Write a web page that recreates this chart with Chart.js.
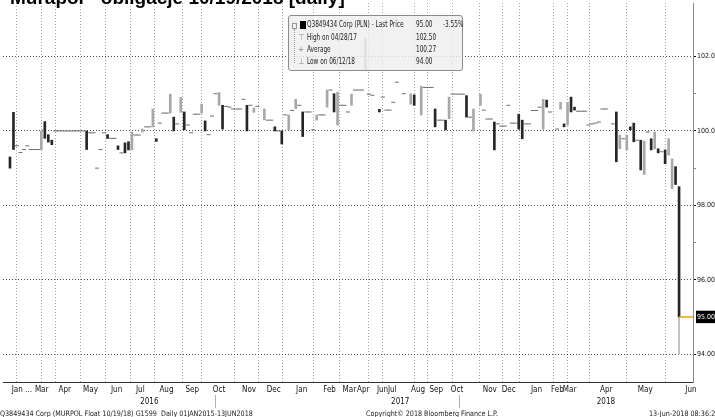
<!DOCTYPE html>
<html>
<head>
<meta charset="utf-8">
<script src="https://cdn.jsdelivr.net/npm/chart.js@4.4.0/dist/chart.umd.min.js"></script>
<style>
html, body { margin: 0; padding: 0; background: #fff; overflow: hidden; }
#quadro { position: relative; width: 715px; height: 417px; overflow: hidden;
  font-family: 'Liberation Sans Narrow', 'DejaVu Sans Condensed', sans-serif; color: #222; }
#grafico { position: absolute; left: 0; top: 0; }
#titulo { position: absolute; left: 10px; top: -12px; white-space: nowrap;
  font: bold 19px/19px 'Liberation Sans', Arial, sans-serif; color: #000; }
#legenda { position: absolute; left: 288px; top: 15px; width: 173px; height: 54px;
  border: 1px solid #8c8c8c; border-radius: 3px; background: rgba(238,238,238,0.82); font-size: 8px; }
#legenda .lin { position: absolute; left: 0; width: 100%; height: 12px; line-height: 12px; white-space: nowrap; }
#legenda .lin span.t { position: absolute; transform: scaleX(0.8); transform-origin: 0 50%; }
#legenda .nome { left: 18px; }
#legenda .val { left: 127px; }
#legenda .var { left: 154px; }
#legenda .ic0 { position: absolute; left: 3px; top: 4px; width: 3px; height: 4px; border: 1px solid #999; }
#legenda .ic1 { position: absolute; left: 11px; top: 2px; width: 6px; height: 8px; background: #000; }
#legenda .sim { position: absolute; left: 9px; color: #888; }
#legenda .conector { position: absolute; left: 5px; top: 13px; height: 34px; border-left: 1px dotted #999; }
.rodape { position: absolute; top: 409px; font-size: 7.5px; color: #222; white-space: nowrap;
  transform: scaleX(0.95); transform-origin: 0 50%; }
</style>
</head>
<body>
<div id="quadro">
  <canvas id="grafico" width="715" height="417"></canvas>
  <div id="titulo">Murapol - obligacje 10/19/2018 [daily]</div>
  <div id="legenda">
    <div class="conector"></div>
    <div class="lin" style="top:3px"><span class="ic0"></span><span class="ic1"></span><span class="t nome">Q3849434 Corp (PLN) - Last Price</span><span class="t val">95.00</span><span class="t var">-3.55%</span></div>
    <div class="lin" style="top:16px"><span class="sim">&#8868;</span><span class="t nome">High on 04/28/17</span><span class="t val">102.50</span></div>
    <div class="lin" style="top:28px"><span class="sim">+</span><span class="t nome">Average</span><span class="t val">100.27</span></div>
    <div class="lin" style="top:40px"><span class="sim">&#8869;</span><span class="t nome">Low on 06/12/18</span><span class="t val">94.00</span></div>
  </div>
  <div class="rodape" style="left:0">Q3849434 Corp (MURPOL Float 10/19/18) G1599&nbsp; Daily 01JAN2015-13JUN2018</div>
  <div class="rodape" style="left:366px">Copyright&copy; 2018 Bloomberg Finance L.P.</div>
  <div class="rodape" style="left:649px">13-Jun-2018 08:36:29</div>
</div>
<script>
// uma posição por negociação (eixo sem lacunas, como no Bloomberg)
const N_POSICOES = 198;

// preço de abertura de cada negociação
const abertura = [
  null, null, 99.30, 100.50, 99.60, 99.42, 99.50, 99.60, 99.50, 99.50,
  99.50, 99.50, 100.25, 99.90, 99.75, 100.00, 100.00, 100.00, 100.00, 100.00,
  100.00, 100.00, 100.00, 100.00, 100.00, 99.95, 99.95, 99.00, 99.50, 99.95,
  99.90, 99.80, 99.80, 99.60, 99.41, 99.68, 99.71, 99.49, 99.89, 99.89,
  99.97, 100.11, 100.11, 100.11, 99.79, 100.21, 100.48, 100.48, 100.48, 100.37,
  100.19, 100.50, 100.51, 100.16, 99.95, 100.45, 100.45, 100.48, 100.27, 99.90,
  100.40, 101.00, 100.69, 100.69, 100.66, 100.64, 100.59, 100.59, 100.59, 100.85,
  100.69, 100.69, 100.50, 100.66, null, 100.30, 100.29, 100.29, 100.11, 100.00,
  100.00, 100.43, 100.03, 100.55, 100.60, 100.69, 100.51, 100.51, 100.51, 100.03,
  100.29, 100.43, 100.43, 100.64, 101.10, 101.00, 100.16, 100.69, 100.69, 100.51,
  100.69, 101.10, 101.10, 101.10, 101.65, 100.99, 100.96, null, 100.58, 100.91,
  100.56, 100.56, 100.77, 101.31, null, 101.00, null, 100.72, 100.97, null,
  100.43, 101.17, 101.17, 101.17, 100.59, 100.29, 100.29, 100.29, 100.33, 100.99,
  100.99, 100.99, 100.99, 100.95, 100.37, 100.00, null, 100.69, 100.56, 100.32,
  100.32, 100.24, 100.19, 100.13, 100.13, 100.69, 100.21, 100.21, 100.45, 100.29,
  100.19, 100.19, 100.55, 100.55, 100.64, 100.05, 100.83, 100.51, null, 100.05,
  100.59, 100.19, 100.16, 100.91, 100.64, 100.53, 100.53, 100.53, 100.16, 100.19,
  100.21, 100.24, 100.59, 100.59, null, 100.19, 100.51, 99.52, 99.79, 99.49,
  100.11, 100.21, 99.75, 99.75, 98.83, 99.97, 99.79, 99.52, 99.52, 99.44,
  99.49, 99.35, 98.45, 99.04, 98.50, null, null, null
];

// preço de fechamento de cada negociação
const fechamento = [
  null, null, 99.00, 99.50, 99.60, 99.42, 99.50, 99.60, 99.50, 99.50,
  99.50, 100.00, 99.80, 99.70, 99.63, 100.00, 100.00, 100.00, 100.00, 100.00,
  100.00, 100.00, 100.00, 100.00, 99.50, 99.95, 99.95, 99.00, 99.50, 99.95,
  99.80, 99.80, 99.80, 99.50, 99.41, 99.41, 99.49, 99.97, 99.89, 99.89,
  100.05, 100.11, 100.11, 100.59, 99.72, 100.21, 100.48, 100.48, 100.99, 100.00,
  100.19, 100.90, 100.03, 100.16, 99.95, 100.45, 100.45, 100.72, 100.00, 99.90,
  100.40, 101.00, 101.03, 100.05, 100.66, 100.64, 100.59, 100.59, 100.59, 100.85,
  100.00, 100.69, 100.62, 100.66, null, 100.59, 100.29, 100.29, 100.00, 100.00,
  99.65, 100.43, 100.43, 100.55, 100.85, 100.69, 99.85, 100.51, 100.51, 100.03,
  100.43, 100.43, 100.43, 101.10, 101.10, 100.51, 101.04, 100.69, 100.69, 100.51,
  100.99, 101.10, 101.10, 101.10, 102.50, 100.99, 100.96, null, 100.51, 100.91,
  100.56, 100.56, 100.77, 101.31, null, 101.00, null, 101.00, 100.69, null,
  101.20, 101.17, 101.17, 101.17, 100.11, 100.29, 100.29, 100.03, 100.91, 100.99,
  100.99, 100.99, 100.99, 100.37, 100.37, 100.59, null, 100.99, 100.56, 100.32,
  100.32, 99.49, 100.19, 100.13, 100.13, 100.69, 100.21, 100.21, 100.05, 99.79,
  100.19, 100.19, 100.55, 100.55, 100.64, 100.85, 100.64, 100.51, null, 100.05,
  100.77, 100.11, 100.77, 100.51, 100.56, 100.53, 100.53, 100.53, 100.16, 100.19,
  100.21, 100.24, 100.59, 100.59, null, 100.19, 99.17, 99.89, 99.79, 99.89,
  100.03, 99.71, 99.75, 98.95, 99.73, 99.97, 99.49, 99.97, 99.41, 99.44,
  99.12, 99.79, 99.25, 98.56, 95.00, null, null, null
];

// pavio da última negociação (mínima do dia)
const pavioPos = [194];
const pavioMin = [94.00];
const pavioMax = [98.50];

// eixo x: rótulos dos meses, linhas de grade e anos
const mesesNomes = ['Jan ...', 'Mar', 'Apr', 'May', 'Jun', 'Jul', 'Aug', 'Sep', 'Oct', 'Nov', 'Dec',
  'Jan', 'Feb', 'Mar', 'Apr', 'Jun', 'Jul', 'Aug', 'Sep', 'Oct', 'Nov', 'Dec',
  'Jan', 'Feb', 'Mar', 'Apr', 'May', 'Jun'];
const mesesPos = [5.4, 11.1, 17.7, 25.1, 32.6, 39.4, 46.9, 54.3, 62.0, 70.6, 77.7,
  85.7, 93.7, 99.4, 103.4, 108.9, 111.7, 119.1, 124.3, 130.3, 139.7, 145.1,
  153.1, 159.1, 162.6, 173.1, 184.3, 197.4];
const gradePos = [4, 11.1, 15.1, 22.3, 29.4, 36.6, 43.4, 51.4, 56.9, 66.3, 73.4, 80.3, 89.1, 96.6,
  104.8, 108.8, 118.0, 121.7, 129.1, 136.7, 143.3, 148.1, 157.9, 162.1, 168.4, 179.0, 190.2];
const anosNomes = ['2016', '2017', '2018'];
const anosLimites = [4, 80, 148, 198];

// eixo y
const yMaiores = [94, 96, 98, 100, 102];
const yMenores = [97, 99, 101];

const fonte = "'Liberation Sans Narrow', 'DejaVu Sans Condensed', sans-serif";

// separa corpos e negociações sem variação (traço horizontal)
let corpos = [];
let dojis = [];
let ultima = 0;
for (let i = 0; i < abertura.length; i++) {
  if (abertura[i] === null) continue;
  ultima = i;
  if (abertura[i] === fechamento[i]) dojis.push({x: i, y: fechamento[i]});
  else corpos.push({x: i, y: [abertura[i], fechamento[i]]});
}
const ultimoPreco = fechamento[ultima];
let pavios = pavioPos.map((p, i) => ({x: p, y: [pavioMin[i], pavioMax[i]]}));

let anosTicks = [];
for (let i = 0; i < anosNomes.length; i++) {
  if (i > 0) anosTicks.push({v: anosLimites[i], rotulo: ''});
  anosTicks.push({v: (anosLimites[i] + anosLimites[i + 1]) / 2, rotulo: anosNomes[i]});
}

function semPadding(s) { s.paddingLeft = 0; s.paddingRight = 0; s.paddingTop = 0; s.paddingBottom = 0; }

let ctx = document.getElementById('grafico').getContext('2d');
let grafico = new Chart(ctx, {
  type: 'bar',
  data: {
    datasets: [
      {type: 'bar', data: pavios, backgroundColor: '#b8b8b8', barThickness: 1, grouped: false, order: 3},
      {type: 'bar', data: corpos, barThickness: 2, grouped: false, order: 2,
        backgroundColor: c => (c.raw && c.raw.y[1] < c.raw.y[0]) ? '#262626' : '#a8a8a8'},
      {type: 'line', data: dojis, showLine: false, pointStyle: 'line', pointRadius: 2, pointHoverRadius: 2,
        pointBorderColor: '#6e6e6e', pointBorderWidth: 1, order: 1},
      {type: 'line', data: [{x: ultima, y: ultimoPreco}, {x: N_POSICOES, y: ultimoPreco}],
        borderColor: '#f5a000', borderWidth: 1.5, pointRadius: 0, order: 0}
    ]
  },
  options: {
    responsive: false,
    animation: false,
    layout: {padding: {top: 0, left: 0, right: 0, bottom: 10}},
    plugins: {legend: {display: false}, tooltip: {enabled: false}},
    scales: {
      x: {
        type: 'linear', position: 'bottom', min: 0, max: N_POSICOES, offset: false, weight: 0,
        afterBuildTicks: s => { s.ticks = gradePos.map(v => ({value: v})); },
        ticks: {display: false},
        grid: {color: '#a6a6a6', drawTicks: false, offset: false},
        border: {display: true, color: '#333', dash: [1, 2]},
        afterFit: s => { s.height = 0; semPadding(s); }
      },
      xMes: {
        type: 'linear', axis: 'x', position: 'bottom', min: 0, max: N_POSICOES, offset: false, weight: 1,
        afterBuildTicks: s => { s.ticks = mesesPos.map(v => ({value: v})); },
        ticks: {autoSkip: false, maxRotation: 0, minRotation: 0, padding: 3, color: '#111',
          font: {family: fonte, size: 8}, callback: (v, i) => mesesNomes[i]},
        grid: {display: false, drawTicks: false},
        border: {display: false},
        afterFit: s => { s.height = 13; semPadding(s); }
      },
      xAno: {
        type: 'linear', axis: 'x', position: 'bottom', min: 0, max: N_POSICOES, offset: false, weight: 2,
        afterBuildTicks: s => { s.ticks = anosTicks.map(t => ({value: t.v})); },
        ticks: {autoSkip: false, maxRotation: 0, minRotation: 0, padding: -11, color: '#111',
          font: {family: fonte, size: 8}, callback: (v, i) => anosTicks[i].rotulo},
        grid: {display: true, drawOnChartArea: false, drawTicks: true, tickLength: 13, color: 'transparent',
          tickColor: c => (anosTicks[c.index] && anosTicks[c.index].rotulo === '') ? '#b0b0b0' : 'transparent'},
        border: {display: false},
        afterFit: s => { s.height = 12; semPadding(s); }
      },
      y: {
        type: 'linear', position: 'right', min: 93.25, max: 103.44,
        afterBuildTicks: s => {
          let vals = yMaiores.concat(yMenores, [ultimoPreco]).sort((a, b) => a - b);
          s.ticks = vals.map(v => ({value: v}));
        },
        ticks: {
          autoSkip: false, padding: 1, font: {family: fonte, size: 7},
          color: c => c.tick.value === ultimoPreco ? '#fff' : '#111',
          showLabelBackdrop: c => c.tick.value === ultimoPreco,
          backdropColor: '#000', backdropPadding: {x: 1, y: 2},
          callback: v => {
            if (yMaiores.includes(v)) return v >= 100 ? v.toFixed(1) : v.toFixed(2);
            if (v === ultimoPreco) return v.toFixed(2);
            return '';
          }
        },
        grid: {
          drawTicks: true, tickLength: 3,
          color: c => yMaiores.includes(c.tick.value) ? '#4a4a4a' : 'transparent',
          tickColor: c => yMaiores.includes(c.tick.value) ? '#000' : (c.tick.value === ultimoPreco ? 'transparent' : '#888')
        },
        border: {display: true, color: '#8a8a8a', dash: [1, 2]},
        afterFit: s => { s.width = 22; semPadding(s); }
      }
    }
  }
});
</script>
</body>
</html>
